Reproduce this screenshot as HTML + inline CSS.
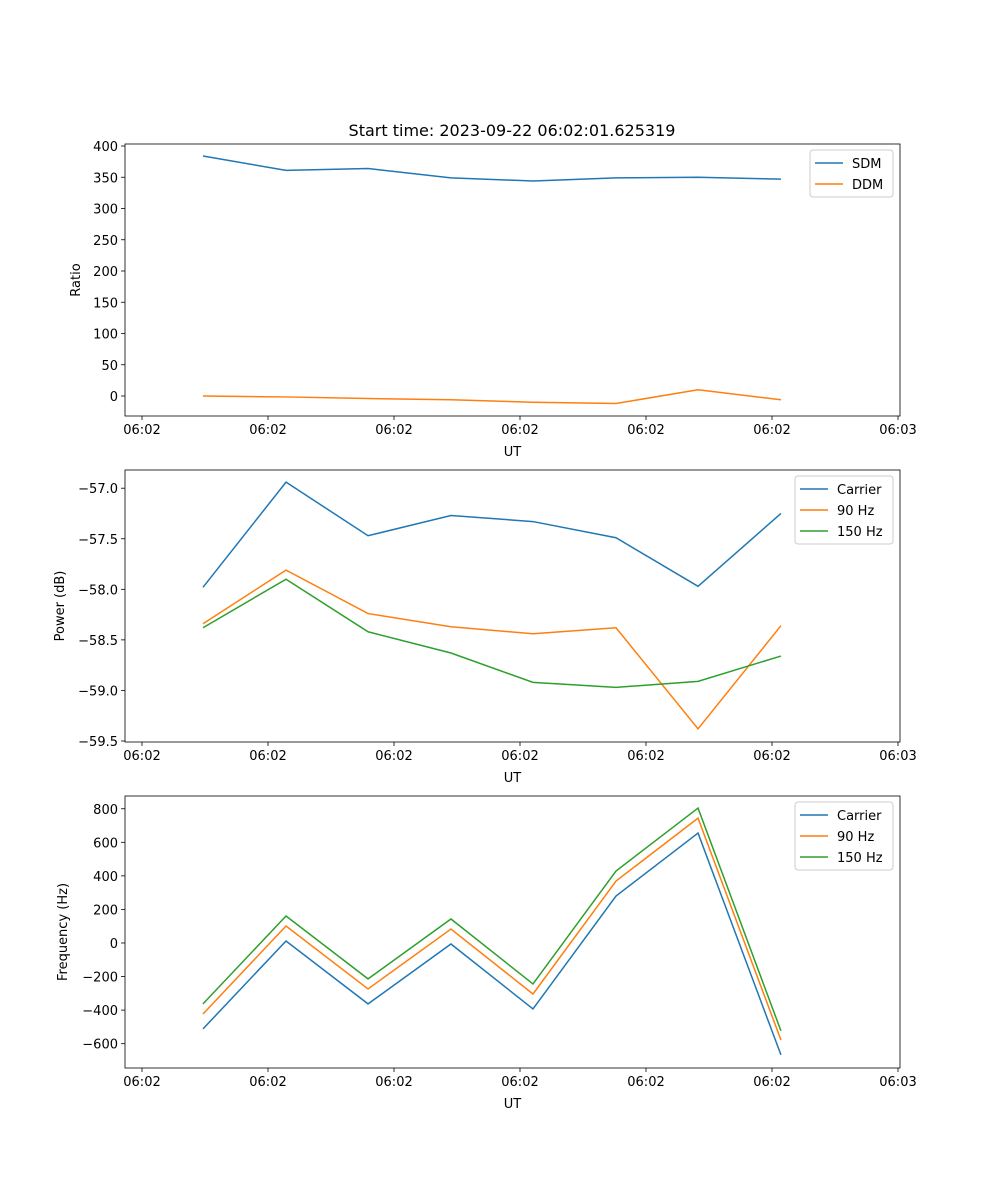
<!DOCTYPE html>
<html><head><meta charset="utf-8">
<style>
body{margin:0;background:#fff;}
svg{display:block;font-family:"DejaVu Sans","Liberation Sans",sans-serif;}
</style></head>
<body>
<svg id="fig" width="1000" height="1200" viewBox="0 0 1000 1200"></svg>
<script>
// x positions in tick units (tick labels at 0..6)
const times = [0.484, 1.143, 1.794, 2.452, 3.103, 3.762, 4.413, 5.071];
const xTickLabels = ["06:02","06:02","06:02","06:02","06:02","06:02","06:03"];
const sdm = [384, 361, 364, 349, 344, 349, 350, 347];
const ddm = [0, -1.5, -4, -6, -10, -12, 10, -6];
const powCarrier = [-57.98, -56.94, -57.47, -57.27, -57.33, -57.49, -57.97, -57.25];
const pow90 = [-58.34, -57.81, -58.24, -58.37, -58.44, -58.38, -59.38, -58.36];
const pow150 = [-58.38, -57.90, -58.42, -58.63, -58.92, -58.97, -58.91, -58.66];
const freqCarrier = [-512, 12, -363, -6, -393, 280, 655, -667];
const freq90 = [-423, 101, -274, 83, -304, 369, 744, -578];
const freq150 = [-363, 161, -214, 143, -244, 429, 804, -524];
const ratioTicks = [0,50,100,150,200,250,300,350,400];
const powTicks = [-59.5,-59.0,-58.5,-58.0,-57.5,-57.0];
const freqTicks = [-600,-400,-200,0,200,400,600,800];

const NS="http://www.w3.org/2000/svg";
const svg=document.getElementById('fig');
function el(tag,attrs,parent){const e=document.createElementNS(NS,tag);for(const k in attrs)e.setAttribute(k,attrs[k]);(parent||svg).appendChild(e);return e;}
const L=125,R=900;
const xs=t=>142+t*126;

function panel(name,top,bot,ymin,ymax,yticks,fmt,ylabel,series,legend){
  const g=el('g',{});
  
  
  const ys=v=>bot-(v-ymin)/(ymax-ymin)*(bot-top);
  xTickLabels.forEach((lab,i)=>{
    const x=xs(i);
    el('line',{x1:x,x2:x,y1:bot,y2:bot+4,stroke:'#000','stroke-width':0.8},g);
    const t=el('text',{x:x,y:bot+18,'text-anchor':'middle','font-size':13,fill:'#000'},g);
    t.textContent=lab;
    
    
  });
  yticks.forEach(v=>{
    const y=ys(v);
    el('line',{x1:L-4,x2:L,y1:y,y2:y,stroke:'#000','stroke-width':0.8},g);
    const t=el('text',{x:L-7,y:y+5,'text-anchor':'end','font-size':13,fill:'#000'},g);
    t.textContent=fmt(v);
    
    
  });
  const xl=el('text',{x:(L+R)/2,y:bot+40,'text-anchor':'middle','font-size':13},g);
  xl.textContent='UT';
  
  
  const cy=(top+bot)/2;
  const yl=el('text',{x:0,y:0,'text-anchor':'middle','font-size':13,transform:`translate(${ylabel[1]},${cy}) rotate(-90)`},g);
  yl.textContent=ylabel[0];
  
  
  series.forEach(s=>{
    const p=el('polyline',{points:s.data.map((v,i)=>xs(times[i])+','+ys(v)).join(' '),fill:'none',stroke:s.color,'stroke-width':1.5},g);
    
    
  });
  el('rect',{x:L,y:top,width:R-L,height:bot-top,fill:'none',stroke:'#000','stroke-width':0.8},g);
  const lg=el('g',{},g);
  
  
  el('rect',{x:legend.x,y:top+6,width:R-7-legend.x,height:series.length*21+5,rx:3,fill:'#fff',stroke:'#ccc','stroke-width':1},lg);
  series.forEach((s,i)=>{
    const y=top+19+i*21;
    el('line',{x1:legend.x+5,x2:legend.x+33,y1:y,y2:y,stroke:s.color,'stroke-width':1.5},lg);
    const t=el('text',{x:legend.x+42,y:y+5,'font-size':13},lg);
    t.textContent=s.label;
    
    
  });
}
const B='#1f77b4',O='#ff7f0e',G='#2ca02c';
const title=el('text',{x:512,y:136,'text-anchor':'middle','font-size':16});
title.textContent='Start time: 2023-09-22 06:02:01.625319';



panel('ratio',144,416,-32,403.2,ratioTicks,v=>String(v),['Ratio',80],
 [{key:'sdm',label:'SDM',data:sdm,color:B},{key:'ddm',label:'DDM',data:ddm,color:O}],{x:810});
panel('power',470,742,-59.51,-56.82,powTicks,v=>'\u2212'+Math.abs(v).toFixed(1),['Power (dB)',64],
 [{key:'carrier',label:'Carrier',data:powCarrier,color:B},{key:'90hz',label:'90 Hz',data:pow90,color:O},{key:'150hz',label:'150 Hz',data:pow150,color:G}],{x:795});
panel('frequency',796,1068,-745,876,freqTicks,v=>v<0?'\u2212'+Math.abs(v):String(v),['Frequency (Hz)',67],
 [{key:'carrier',label:'Carrier',data:freqCarrier,color:B},{key:'90hz',label:'90 Hz',data:freq90,color:O},{key:'150hz',label:'150 Hz',data:freq150,color:G}],{x:795});
</script>
</body></html>
